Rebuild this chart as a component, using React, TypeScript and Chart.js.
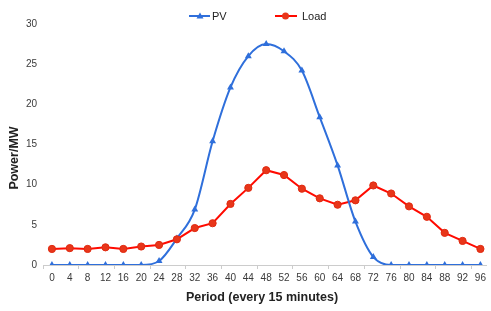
import React, { useEffect, useRef } from 'react';
import { Chart, registerables } from 'chart.js';
Chart.register(...registerables);

const periods = [0, 4, 8, 12, 16, 20, 24, 28, 32, 36, 40, 44, 48, 52, 56, 60, 64, 68, 72, 76, 80, 84, 88, 92, 96];
const pvValues = [0, 0, 0, 0, 0, 0, 0.5, 3.3, 6.9, 15.4, 22.1, 26.0, 27.5, 26.6, 24.2, 18.4, 12.4, 5.4, 1.0, 0, 0, 0, 0, 0, 0];
const loadValues = [2.0, 2.1, 2.0, 2.2, 2.0, 2.3, 2.5, 3.2, 4.6, 5.2, 7.6, 9.6, 11.8, 11.2, 9.5, 8.3, 7.5, 8.05, 9.9, 8.9, 7.3, 6.0, 4.0, 3.0, 2.0];
const yTicks = [0, 5, 10, 15, 20, 25, 30];
const seriesNames = ['PV', 'Load'];
const xTitle = 'Period (every 15 minutes)';
const yTitle = 'Power/MW';

const FONT = '"Liberation Sans", Arial, sans-serif';
const PV_COLOR = '#2f6fdb';
const LOAD_COLOR = '#ff0a00';
const LOAD_POINT = '#e8361a';

const decorPlugin = {
  id: 'decor',
  afterDraw(chart: any) {
    const ctx = chart.ctx;
    ctx.save();
    ctx.fillStyle = '#222';
    ctx.font = `bold 12.5px ${FONT}`;
    ctx.textAlign = 'center';
    ctx.textBaseline = 'middle';
    ctx.save();
    ctx.translate(15, 158);
    ctx.rotate(-Math.PI / 2);
    ctx.fillText(yTitle, 0, 0);
    ctx.restore();
    ctx.fillText(xTitle, 262, 298);

    const y = 16;
    ctx.font = `11px ${FONT}`;
    ctx.textAlign = 'left';
    ctx.strokeStyle = PV_COLOR;
    ctx.lineWidth = 2;
    ctx.beginPath();
    ctx.moveTo(189, y);
    ctx.lineTo(210, y);
    ctx.stroke();
    ctx.fillStyle = PV_COLOR;
    ctx.beginPath();
    ctx.moveTo(200, y - 3.5);
    ctx.lineTo(203.5, y + 2.5);
    ctx.lineTo(196.5, y + 2.5);
    ctx.closePath();
    ctx.fill();
    ctx.fillStyle = '#222';
    ctx.fillText(seriesNames[0], 212, y + 0.5);
    ctx.strokeStyle = LOAD_COLOR;
    ctx.beginPath();
    ctx.moveTo(275, y);
    ctx.lineTo(297, y);
    ctx.stroke();
    ctx.fillStyle = LOAD_POINT;
    ctx.beginPath();
    ctx.arc(285.5, y, 3.5, 0, Math.PI * 2);
    ctx.fill();
    ctx.fillStyle = '#222';
    ctx.fillText(seriesNames[1], 302, y + 0.5);
    ctx.restore();
  },
};

export default function App() {
  const ref = useRef<HTMLCanvasElement>(null);
  useEffect(() => {
    if (!ref.current) return;
    const pvData = periods.map((p, i) => ({ x: p, y: pvValues[i] }));
    const loadData = periods.map((p, i) => ({ x: p, y: loadValues[i] }));
    const chart = new Chart(ref.current, {
      type: 'line',
      data: {
        datasets: [
          {
            label: seriesNames[1] + ' line',
            data: loadData,
            borderColor: LOAD_COLOR,
            borderWidth: 2,
            pointRadius: 0,
            tension: 0,
            order: 3,
          },
          {
            label: seriesNames[0] + ' line',
            data: pvData,
            borderColor: PV_COLOR,
            borderWidth: 2,
            pointRadius: 0,
            cubicInterpolationMode: 'monotone',
            tension: 0.4,
            order: 2,
          },
          {
            label: seriesNames[0],
            data: pvData,
            showLine: false,
            pointStyle: 'triangle',
            pointRadius: 4,
            pointBorderWidth: 0,
            pointBackgroundColor: PV_COLOR,
            order: 1,
          },
          {
            label: seriesNames[1],
            data: loadData,
            showLine: false,
            pointStyle: 'circle',
            pointRadius: 3.6,
            pointBorderWidth: 1,
            pointBorderColor: '#e02a10',
            pointBackgroundColor: LOAD_POINT,
            order: 0,
          },
        ],
      },
      options: {
        animation: false,
        responsive: false,
        maintainAspectRatio: false,
        layout: { padding: { top: 24, left: 0, right: 0, bottom: 0 } },
        plugins: {
          legend: { display: false },
          tooltip: { enabled: false },
        },
        scales: {
          x: {
            type: 'linear',
            min: -2,
            max: 97.25,
            afterBuildTicks: (scale: any) => {
              const t = [];
              for (let v = -2; v <= 96; v += 2) t.push({ value: v });
              scale.ticks = t;
            },
            afterFit: (scale: any) => {
              scale.height = 46;
            },
            ticks: {
              autoSkip: false,
              maxRotation: 0,
              padding: 3,
              color: '#3a3a3a',
              font: { family: FONT, size: 10 },
              callback: (v: any) => (v >= 0 && v % 4 === 0 ? String(v) : ''),
            },
            grid: {
              drawOnChartArea: false,
              tickLength: 4,
              tickColor: (ctx: any) =>
                ctx.tick && (ctx.tick.value + 2) % 8 === 0 ? '#cccccc' : 'rgba(0,0,0,0)',
            },
            border: { color: '#cccccc', width: 1 },
          },
          y: {
            min: 0,
            max: 30,
            afterBuildTicks: (scale: any) => {
              scale.ticks = yTicks.map((v) => ({ value: v }));
            },
            afterFit: (scale: any) => {
              scale.width = 43;
            },
            ticks: {
              padding: 6,
              color: '#3a3a3a',
              font: { family: FONT, size: 10 },
            },
            grid: { display: false, drawTicks: false },
            border: { display: false },
          },
        },
      },
      plugins: [decorPlugin],
    } as any);
    return () => chart.destroy();
  }, []);
  return (
    <div style={{ position: 'absolute', left: 0, top: 0, width: 491, height: 311, background: '#fff' }}>
      <canvas ref={ref} width={491} height={311} style={{ width: 491, height: 311 }} />
    </div>
  );
}
